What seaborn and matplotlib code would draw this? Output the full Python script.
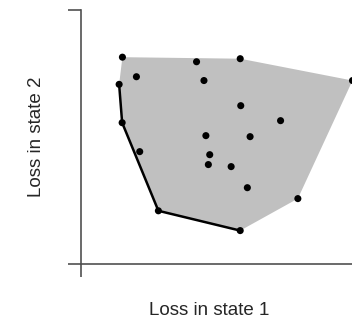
import numpy as np
import pandas as pd
import matplotlib
matplotlib.use("Agg")
import matplotlib.pyplot as plt
import seaborn as sns

# loss of each option in the two states
loss_state1 = [1.51, 4.21, 5.80, 9.89, 2.02, 1.39, 4.48, 5.82, 7.27, 1.50,
               4.55, 6.16, 2.14, 4.69, 4.64, 5.47, 6.06, 7.90, 2.82, 5.80]
loss_state2 = [8.14, 7.96, 8.08, 7.22, 7.37, 7.07, 7.22, 6.23, 5.64, 5.56,
               5.05, 5.01, 4.42, 4.30, 3.91, 3.83, 3.00, 2.57, 2.09, 1.31]

x_label = "Loss in state 1"
y_label = "Loss in state 2"


def convex_hull(pts):
    # monotone chain, counter-clockwise, starting from the leftmost point
    pts = sorted(map(tuple, pts))

    def cross(o, a, b):
        return (a[0] - o[0]) * (b[1] - o[1]) - (a[1] - o[1]) * (b[0] - o[0])

    lower, upper = [], []
    for p in pts:
        while len(lower) >= 2 and cross(lower[-2], lower[-1], p) <= 0:
            lower.pop()
        lower.append(p)
    for p in reversed(pts):
        while len(upper) >= 2 and cross(upper[-2], upper[-1], p) <= 0:
            upper.pop()
        upper.append(p)
    return lower[:-1] + upper[:-1]


df = pd.DataFrame({"s1": loss_state1, "s2": loss_state2})
hull = np.array(convex_hull(df[["s1", "s2"]].values))

# lower-left part of the hull: from leftmost point to the lowest point
i_low = int(np.argmin(hull[:, 1]))
frontier = hull[: i_low + 1]

sns.set_style("white")
plt.rcParams["font.family"] = ["Liberation Sans", "DejaVu Sans"]

fig = plt.figure(figsize=(3.52, 3.21), dpi=100)
ax = fig.add_axes([0.230, 0.178, 0.78, 0.791])

ax.fill(hull[:, 0], hull[:, 1], color="#c0c0c0", lw=0, zorder=1)
ax.plot(frontier[:, 0], frontier[:, 1], color="black", lw=1.8, zorder=2)
sns.scatterplot(data=df, x="s1", y="s2", color="black", s=26,
                edgecolor="none", ax=ax, zorder=3, clip_on=False)

ax.set_xlim(0, 10)
ax.set_ylim(0, 10)
ax.set_xticks([0, 10])
ax.set_yticks([0, 10])
ax.set_xticklabels([])
ax.set_yticklabels([])
ax.tick_params(bottom=True, left=True, direction="out", length=9.5,
               width=1.2, color="#505050")
for side in ["top", "right"]:
    ax.spines[side].set_visible(False)
for side in ["left", "bottom"]:
    ax.spines[side].set_color("#505050")
    ax.spines[side].set_linewidth(1.2)

ax.set_xlabel(x_label, fontsize=13.5)
ax.set_ylabel(y_label, fontsize=13.5, labelpad=13)
ax.xaxis.set_label_coords(0.466, -0.182, transform=ax.transAxes)
ax.xaxis.label.set_va("center")

fig.savefig("out.png", dpi=100)
